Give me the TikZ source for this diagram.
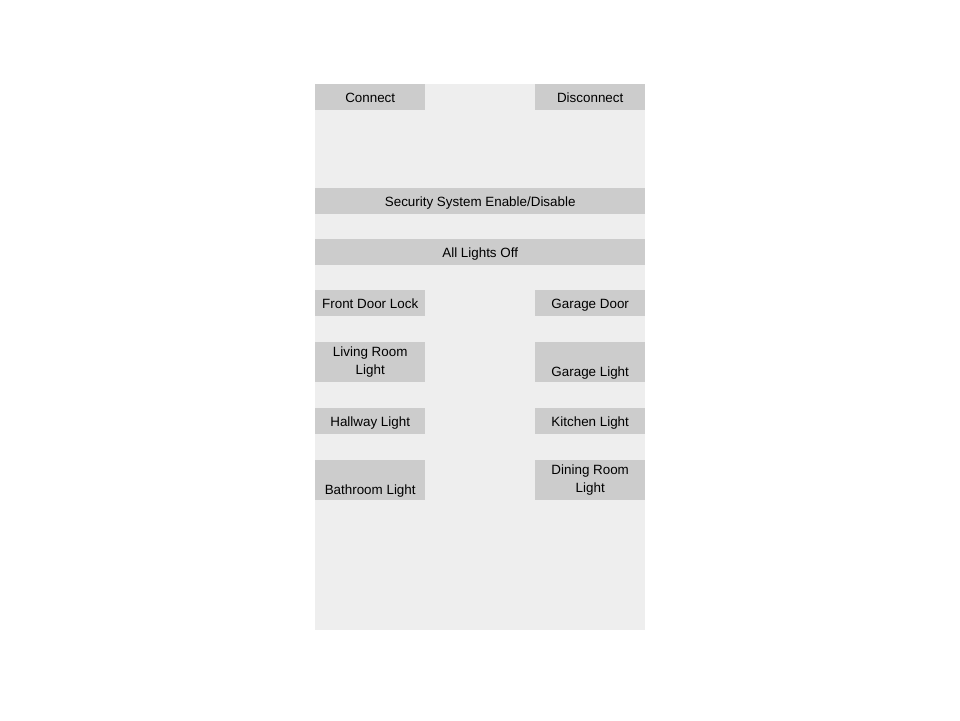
\documentclass[tikz,border=0pt]{standalone}
\usepackage{fontspec}
\setmainfont{Liberation Sans}
\definecolor{panelgray}{HTML}{EEEEEE}
\definecolor{buttongray}{HTML}{CCCCCC}
\begin{document}
\begin{tikzpicture}[x=1pt,y=-1pt,
    key/.style={rectangle, fill=buttongray, anchor=north west, inner sep=0pt, minimum width=110pt, align=center, font=\fontsize{13.4}{18}\selectfont},
    button/.style={key, minimum height=26pt, text height=11.2pt, text depth=0pt},
    widebutton/.style={button, minimum width=330pt},
    tallbutton/.style={key, minimum height=40pt}]
    \useasboundingbox (0,0) rectangle (960,720);
    \node(panel) [rectangle, fill=panelgray, anchor=north west, inner sep=0pt, minimum width=330pt, minimum height=546pt] at (315,84) {};
    \node(connect) [button] at (315,84) {Connect};
    \node(disconnect) [button] at (535,84) {Disconnect};
    \node(security) [widebutton] at (315,188) {Security System Enable/Disable};
    \node(alloff) [widebutton] at (315,239) {All Lights Off};
    \node(frontdoor) [button] at (315,290) {Front Door Lock};
    \node(garagedoor) [button] at (535,290) {Garage Door};
    \node(livingroom) [tallbutton] at (315,342) {Living Room\\Light};
    \node(garagelight) [tallbutton] at (535,342) {\strut\\Garage Light};
    \node(hallway) [button] at (315,408) {Hallway Light};
    \node(kitchen) [button] at (535,408) {Kitchen Light};
    \node(bathroom) [tallbutton] at (315,460) {\strut\\Bathroom Light};
    \node(diningroom) [tallbutton] at (535,460) {Dining Room\\Light};
\end{tikzpicture}
\end{document}
